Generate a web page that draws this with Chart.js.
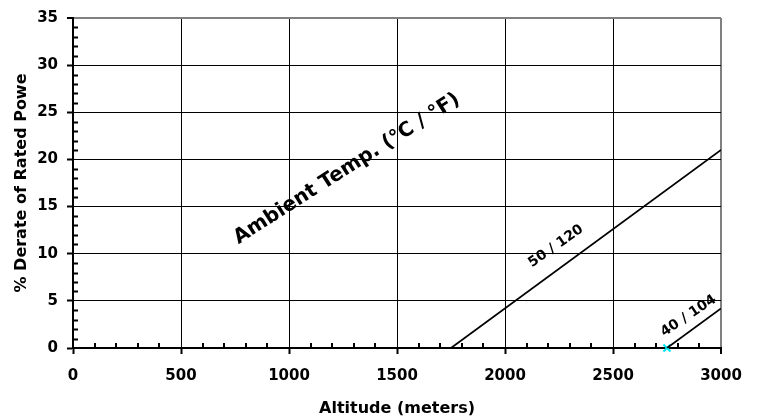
<!DOCTYPE html>
<html>
<head>
<meta charset="utf-8">
<script src="https://cdn.jsdelivr.net/npm/chart.js@4/dist/chart.umd.min.js"></script>
<style>
  html, body { margin: 0; padding: 0; background: #fff; }
  canvas { display: block; }
</style>
</head>
<body>
<canvas id="c" width="759" height="418"></canvas>
<script>
// ---- data ----
const altitude50 = [1750, 3000];
const derate50 = [0, 21];
const altitude40 = [2750, 3000];
const derate40 = [0, 4.2];
const markerAltitude = [2750];
const markerDerate = [0];
const xTickValues = [0, 500, 1000, 1500, 2000, 2500, 3000];
const yTickValues = [0, 5, 10, 15, 20, 25, 30, 35];
const curveLabels = ["50 / 120", "40 / 104"];
const chartNote = "Ambient Temp. (°C / °F)";
const xTitle = "Altitude (meters)";
const yTitle = "% Derate of Rated Powe";

// ---- annotation placement (data coordinates) & styling ----
const annotations = [
  { text: curveLabels[0], x: 2236, y: 10.8, angle: -35, size: 14 },
  { text: curveLabels[1], x: 2850, y: 3.4, angle: -34, size: 14 },
  { text: chartNote, x: 1268, y: 19.0, angle: -32.5, size: 20 }
];

const FONT = "'DejaVu Sans', 'Liberation Sans', Arial, sans-serif";
const toPts = (xs, ys) => xs.map((v, i) => ({ x: v, y: ys[i] }));

const minorTicks = {
  id: 'minorTicks',
  afterDraw(chart) {
    const { ctx, scales: { x, y } } = chart;
    const x0 = x.getPixelForValue(0);
    const y0 = y.getPixelForValue(0);
    ctx.save();
    ctx.strokeStyle = '#000';
    ctx.lineWidth = 2;
    ctx.beginPath();
    for (let v = 1; v < 35; v++) {
      if (v % 5 === 0) continue;
      const py = Math.round(y.getPixelForValue(v)) + 0.5;
      ctx.moveTo(x0, py); ctx.lineTo(x0 + 5, py);
    }
    for (let v = 100; v < 3000; v += 100) {
      if (v % 500 === 0) continue;
      const px = Math.round(x.getPixelForValue(v));
      ctx.moveTo(px, y0); ctx.lineTo(px, y0 - 5);
    }
    ctx.stroke();
    ctx.restore();
  }
};

const textNotes = {
  id: 'textNotes',
  afterDatasetsDraw(chart) {
    const { ctx, scales: { x, y } } = chart;
    ctx.save();
    ctx.fillStyle = '#000';
    ctx.textAlign = 'center';
    ctx.textBaseline = 'middle';
    annotations.forEach(a => {
      ctx.save();
      ctx.translate(x.getPixelForValue(a.x), y.getPixelForValue(a.y));
      ctx.rotate(a.angle * Math.PI / 180);
      ctx.font = `bold ${a.size}px ${FONT}`;
      ctx.fillText(a.text, 0, 0);
      ctx.restore();
    });
    ctx.restore();
  }
};

const whiteBg = {
  id: 'whiteBg',
  beforeDraw(chart) {
    const { ctx } = chart;
    ctx.save();
    ctx.fillStyle = '#fff';
    ctx.fillRect(0, 0, chart.width, chart.height);
    ctx.restore();
  }
};

new Chart(document.getElementById('c'), {
  type: 'scatter',
  data: {
    datasets: [
      { label: curveLabels[0], data: toPts(altitude50, derate50), showLine: true,
        borderColor: '#000', borderWidth: 1.75, pointRadius: 0 },
      { label: curveLabels[1], data: toPts(altitude40, derate40), showLine: true,
        borderColor: '#000', borderWidth: 1.75, pointRadius: 0 },
      { label: 'marker', data: toPts(markerAltitude, markerDerate), showLine: false,
        pointStyle: 'crossRot', pointRadius: 5, borderColor: '#00E8F0', backgroundColor: '#00E8F0',
        pointBorderWidth: 2, borderWidth: 2, clip: false }
    ]
  },
  options: {
    responsive: false,
    animation: false,
    events: [],
    layout: { padding: { top: 18, right: 38, left: 0, bottom: 0 } },
    plugins: { legend: { display: false }, tooltip: { enabled: false } },
    scales: {
      x: {
        type: 'linear', min: 0, max: 3000,
        afterBuildTicks: s => { s.ticks = xTickValues.map(v => ({ value: v })); },
        afterFit: s => { s.height = 70; },
        border: { display: true, color: '#000', width: 2 },
        grid: {
          color: c => (c.tick && c.tick.value === 3000) ? '#808080' : '#000',
          lineWidth: c => (c.tick && c.tick.value === 3000) ? 2 : 1,
          drawTicks: true, tickLength: 6, tickColor: '#000', tickWidth: 2
        },
        ticks: { color: '#000', font: { family: FONT, size: 15, weight: 'bold' }, padding: 13, maxRotation: 0,
          callback: v => String(v) },
        title: { display: true, text: xTitle, color: '#000',
          font: { family: FONT, size: 16, weight: 'bold' }, padding: { top: 0, bottom: 0 } }
      },
      y: {
        type: 'linear', min: 0, max: 35,
        afterBuildTicks: s => { s.ticks = yTickValues.map(v => ({ value: v })); },
        afterFit: s => { s.width = 73; },
        border: { display: true, color: '#000', width: 2 },
        grid: {
          color: c => (c.tick && c.tick.value === 35) ? '#808080' : '#000',
          lineWidth: c => (c.tick && c.tick.value === 35) ? 2 : 1,
          drawTicks: true, tickLength: 6, tickColor: '#000', tickWidth: 2
        },
        ticks: { color: '#000', font: { family: FONT, size: 15, weight: 'bold' }, padding: 9,
          callback: v => String(v) },
        title: { display: true, text: yTitle, color: '#000',
          font: { family: FONT, size: 16, weight: 'bold' }, padding: { top: 12, bottom: 12 } }
      }
    }
  },
  plugins: [whiteBg, minorTicks, textNotes]
});
</script>
</body>
</html>
